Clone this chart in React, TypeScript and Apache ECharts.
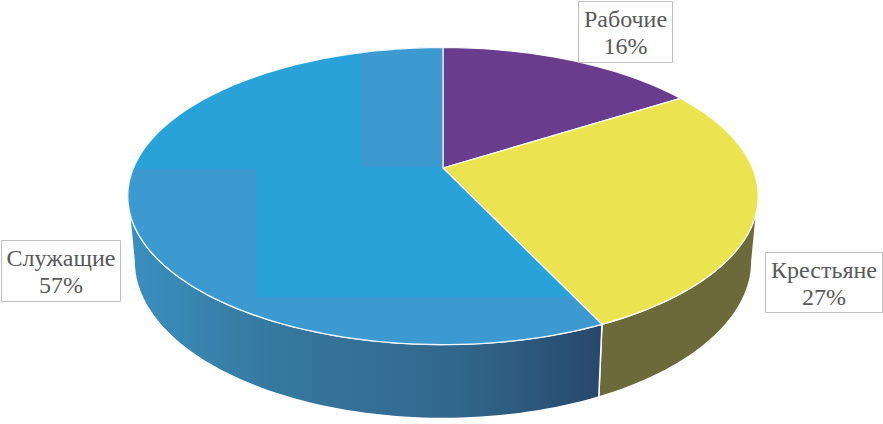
import React, { useEffect, useRef } from "react";
import * as echarts from "echarts";

const categories = ["Рабочие", "Крестьяне", "Служащие"];
const shares = [16, 27, 57];

const topColors = ["#693C8E", "#EBE450", "#28A2D8"];
const patchColor = "#3C9AD1";
const patches = [
  [361, 40, 443, 167],
  [120, 169, 256, 297],
  [120, 297, 620, 350],
];
const sideFills = [
  "#3d3060",
  "#6C6A3B",
  {
    type: "linear", x: 0, y: 0, x2: 1, y2: 0,
    colorStops: [
      { offset: 0, color: "#3A8FC0" },
      { offset: 0.3, color: "#36799F" },
      { offset: 0.7, color: "#32668C" },
      { offset: 1, color: "#27486B" },
    ],
  },
];
const labelBoxes = [
  { x: 578, y: 1, w: 94, h: 61 },
  { x: 765, y: 252, w: 117, h: 60 },
  { x: 1, y: 240, w: 119, h: 61 },
];

// perspective projection of the disc's rim, angle clockwise from the top
const CX = 443, APEX_Y = 168, A = 309.5, B = 143.2, K = 0.189;
const VIS_FROM = 100.9, VIS_TO = 259.1;
const rad = (d: number) => (d * Math.PI) / 180;
const rim = (deg: number): number[] => {
  const u = Math.sin(rad(deg)), v = Math.cos(rad(deg));
  const w = 1 + K * v;
  return [CX + (A * u) / w, APEX_Y - (B * v) / w];
};
const lower = (deg: number): number[] => {
  const p = rim(deg);
  return [CX + (p[0] - CX) * 0.98, 261 + (p[1] - 196) * 1.06];
};
const arc = (f: (d: number) => number[], a: number, b: number) => {
  const n = Math.max(2, Math.ceil(Math.abs(b - a) / 1.5));
  const pts: number[][] = [];
  for (let i = 0; i <= n; i++) pts.push(f(a + ((b - a) * i) / n));
  return pts;
};
const clip = (poly: number[][], r: number[]) => {
  const edges: [number, number, number][] = [
    [0, r[0], 1], [0, r[2], -1], [1, r[1], 1], [1, r[3], -1],
  ];
  let out = poly;
  for (const [ax, val, sign] of edges) {
    const res: number[][] = [];
    out.forEach((p, i) => {
      const q = out[(i + 1) % out.length];
      const pIn = (p[ax] - val) * sign >= 0;
      const qIn = (q[ax] - val) * sign >= 0;
      if (pIn) res.push(p);
      if (pIn !== qIn) {
        const t = (val - p[ax]) / (q[ax] - p[ax]);
        res.push([p[0] + (q[0] - p[0]) * t, p[1] + (q[1] - p[1]) * t]);
      }
    });
    out = res;
    if (!out.length) break;
  }
  return out;
};

export default function App() {
  const ref = useRef<HTMLDivElement>(null);
  useEffect(() => {
    const chart = echarts.init(ref.current!, undefined, { renderer: "svg" });
    const total = shares.reduce((s, v) => s + v, 0);
    const renderItem = (params: any, api: any) => {
      const i = params.dataIndex;
      const before = shares.slice(0, i).reduce((s, v) => s + v, 0);
      const start = (before / total) * 360;
      const end = start + (api.value(0) / total) * 360;
      const children: any[] = [];
      const sFrom = Math.max(start, VIS_FROM), sTo = Math.min(end, VIS_TO);
      if (sTo > sFrom) {
        children.push({
          type: "polygon",
          shape: { points: [...arc(rim, sFrom, sTo), ...arc(lower, sTo, sFrom)] },
          style: { fill: sideFills[i], stroke: "#fff", lineWidth: 1.5 },
        });
      }
      const top = [[CX, APEX_Y], ...arc(rim, start, end)];
      children.push({
        type: "polygon",
        shape: { points: top },
        style: { fill: topColors[i], stroke: "none" },
      });
      if (i === 2) {
        patches.forEach((r) => {
          const pts = clip(top, r);
          if (pts.length > 2) {
            children.push({
              type: "polygon",
              shape: { points: pts },
              style: { fill: patchColor, stroke: "none" },
            });
          }
        });
      }
      children.push({
        type: "polygon",
        shape: { points: top },
        style: { fill: "none", stroke: "#fff", lineWidth: 1.2, opacity: 0.9 },
      });
      const b = labelBoxes[i];
      children.push({
        type: "rect",
        shape: { x: b.x + 0.5, y: b.y + 0.5, width: b.w, height: b.h },
        style: { fill: "#fff", stroke: "#BFBFBF", lineWidth: 1 },
      });
      children.push({
        type: "text",
        x: b.x + b.w / 2 + 0.5,
        y: b.y + b.h / 2 + 1,
        style: {
          text: `${categories[i]}\n${api.value(0)}%`,
          fontFamily: '"Liberation Serif"',
          fontSize: 24,
          lineHeight: 27,
          fill: "#595959",
          align: "center",
          verticalAlign: "middle",
        },
      });
      return { type: "group", children };
    };
    chart.setOption({
      animation: false,
      backgroundColor: "#fff",
      series: [
        {
          type: "custom",
          coordinateSystem: "none",
          renderItem,
          data: shares.map((v) => [v]),
          silent: true,
        },
      ],
    });
    return () => chart.dispose();
  }, []);
  return (
    <div
      ref={ref}
      style={{ width: 883, height: 424, position: "fixed", left: 0, top: 0 }}
    />
  );
}
